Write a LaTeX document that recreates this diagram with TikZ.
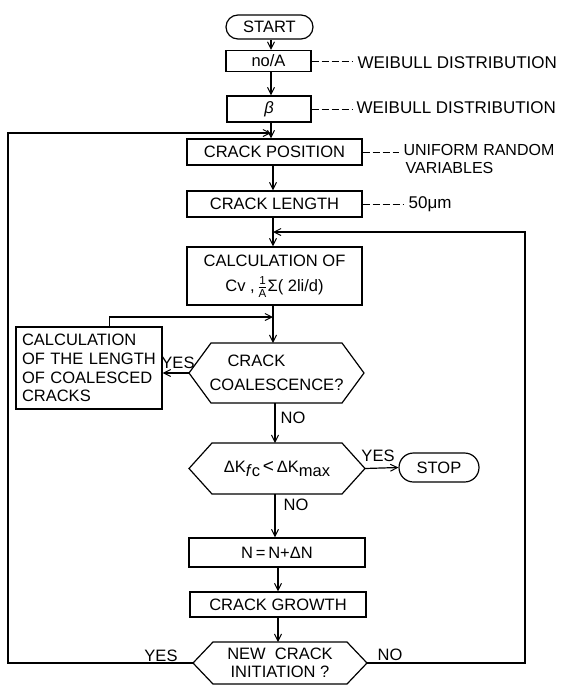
\documentclass[tikz,border=0pt]{standalone}
\usepackage{fontspec}
\usepackage{amsmath}
\setmainfont{Liberation Sans}
\usetikzlibrary{arrows.meta,shapes.misc,calc}
\begin{document}
\begin{tikzpicture}[x=1pt,y=-1pt,
  line width=1.2pt,
  every node/.style={font=\fontsize{16.5}{19}\selectfont},
  box/.style={draw,rectangle,inner sep=0pt,align=center},
  term/.style={draw,rounded rectangle,inner sep=0pt},
  hexnode/.style={inner sep=0pt,outer sep=0pt,align=center},
  arr/.style={-{Straight Barb[length=7pt,width=7pt,line width=1pt]}},
  note/.style={anchor=west,inner sep=0pt,font=\fontsize{17}{19}\selectfont},
  lbl/.style={inner sep=0pt,font=\fontsize{16.5}{18}\selectfont},
  dashline/.style={line width=0.9pt,dash pattern=on 7pt off 3pt,shorten >=4pt}
]
\useasboundingbox (0,0) rectangle (566,686);

% main flow nodes
\node[term,minimum width=87pt,minimum height=24pt] (start) at (269.5,27) {START};
\node[box,minimum width=85pt,minimum height=21pt] (noA) at (268.5,61) {no/A};
\node[box,minimum width=84pt,minimum height=26pt] (beta) at (269,109) {\textit{β}};
\node[box,minimum width=175pt,minimum height=26pt] (pos) at (274.5,152) {CRACK POSITION};
\node[box,minimum width=175pt,minimum height=26pt] (len) at (274.5,204) {CRACK LENGTH};
\node[box,minimum width=175pt,minimum height=58pt,font=\fontsize{16.5}{25}\selectfont] (calc) at (274.5,276)
  {CALCULATION OF\\Cv ,\,$\frac{\text{1}}{\text{A}}$Σ( 2li/d)};
\node[box,align=left,text width=134pt,inner xsep=6pt,minimum height=82pt,font=\fontsize{16.5}{18.7}\selectfont] (left) at (89,368)
  {CALCULATION\\OF THE LENGTH\\OF COALESCED\\CRACKS};
\node[hexnode,minimum width=175pt,minimum height=60pt,align=left,font=\fontsize{16.5}{23.5}\selectfont] (coal) at (276.5,373)
  {\hspace*{18pt}CRACK\\COALESCENCE?};
\node[hexnode,minimum width=176pt,minimum height=51pt] (dk) at (277,468.5)
  {ΔK\raisebox{-4pt}{\textit{f}c}\,{\fontsize{19}{19}\selectfont<}\,ΔK\raisebox{-4pt}{max}};
\node[term,minimum width=80pt,minimum height=29pt] (stop) at (439,467.5) {STOP};
\node[box,minimum width=176pt,minimum height=29pt] (nn) at (277,552.5) {N\,=\,N+ΔN};
\node[box,minimum width=176pt,minimum height=25pt] (grow) at (278,604.5) {CRACK GROWTH};
\node[hexnode,minimum width=174pt,minimum height=42pt,font=\fontsize{16.5}{18.5}\selectfont] (init) at (280,663)
  {NEW\ \ CRACK\\INITIATION ?};

% hexagon outlines
\foreach \n/\c in {coal/22,dk/23,init/20}{
  \draw ($(\n.north west)+(\c,0)$) -- ($(\n.north east)+(-\c,0)$) -- (\n.east)
     -- ($(\n.south east)+(-\c,0)$) -- ($(\n.south west)+(\c,0)$) -- (\n.west) -- cycle;
}

% annotations
\node[note] (w1) at (357,63) {WEIBULL DISTRIBUTION};
\node[note] (w2) at (356,108) {WEIBULL DISTRIBUTION};
\node[note,font=\fontsize{16}{19}\selectfont] (u1) at (403,150) {UNIFORM\hspace{5pt}RANDOM};
\node[note,font=\fontsize{16}{19}\selectfont] (u2) at (405,168) {VARIABLES};
\node[note] (mu) at (408,204) {50μm};
\draw[dashline] (noA.east) -- (noA.east -| w1.west);
\draw[dashline] (beta.east) -- (beta.east -| w2.west);
\draw[dashline] (pos.east) -- (pos.east -| u1.west);
\draw[dashline] (len.east) -- (len.east -| mu.west);

% branch labels
\node[lbl] (y1) at (178,363) {YES};
\node[lbl] (n1) at (293,418) {NO};
\node[lbl] (y2) at (378,456) {YES};
\node[lbl] (n2) at (296,505) {NO};
\node[lbl] (y3) at (161,656) {YES};
\node[lbl] (n3) at (390,655) {NO};

% spine
\coordinate (s1) at (271,0);
\coordinate (s2) at (273,0);
\coordinate (s3) at (275,0);
\coordinate (s4) at (278,0);
\draw[arr] (start.south -| s1) -- (noA.north -| s1);
\draw[arr] (noA.south -| s1) -- (beta.north -| s1);
\draw[arr] (beta.south -| s1) -- (pos.north -| s1);
\draw[arr] (pos.south -| s2) -- (len.north -| s2);
\draw[arr] (len.south -| s2) -- (calc.north -| s2);
\draw[arr] (calc.south -| s2) -- (coal.north -| s2);
\draw[arr] (coal.south -| s3) -- (dk.north -| s3);
\draw[arr] (dk.south -| s3) -- (nn.north -| s3);
\draw[arr] (nn.south -| s4) -- (grow.north -| s4);
\draw[arr] (grow.south -| s4) -- (init.north -| s4);

% loops and branches
\coordinate (jA) at (271,133);
\coordinate (jB) at (273,232);
\coordinate (jC) at (273,317);
\coordinate (lx) at (8,0);
\coordinate (rx) at (525,0);
\draw[arr] (init.west) -| (lx |- jA) -- (jA);
\draw[arr] (init.east) -| (rx |- jB) -- (jB);
\draw[arr] ($(left.north west)+(94,0)$) |- (jC);
\draw[arr] (coal.west) -- (coal.west -| left.east);
\draw[arr] (dk.east) -- (stop.west);
\end{tikzpicture}
\end{document}
